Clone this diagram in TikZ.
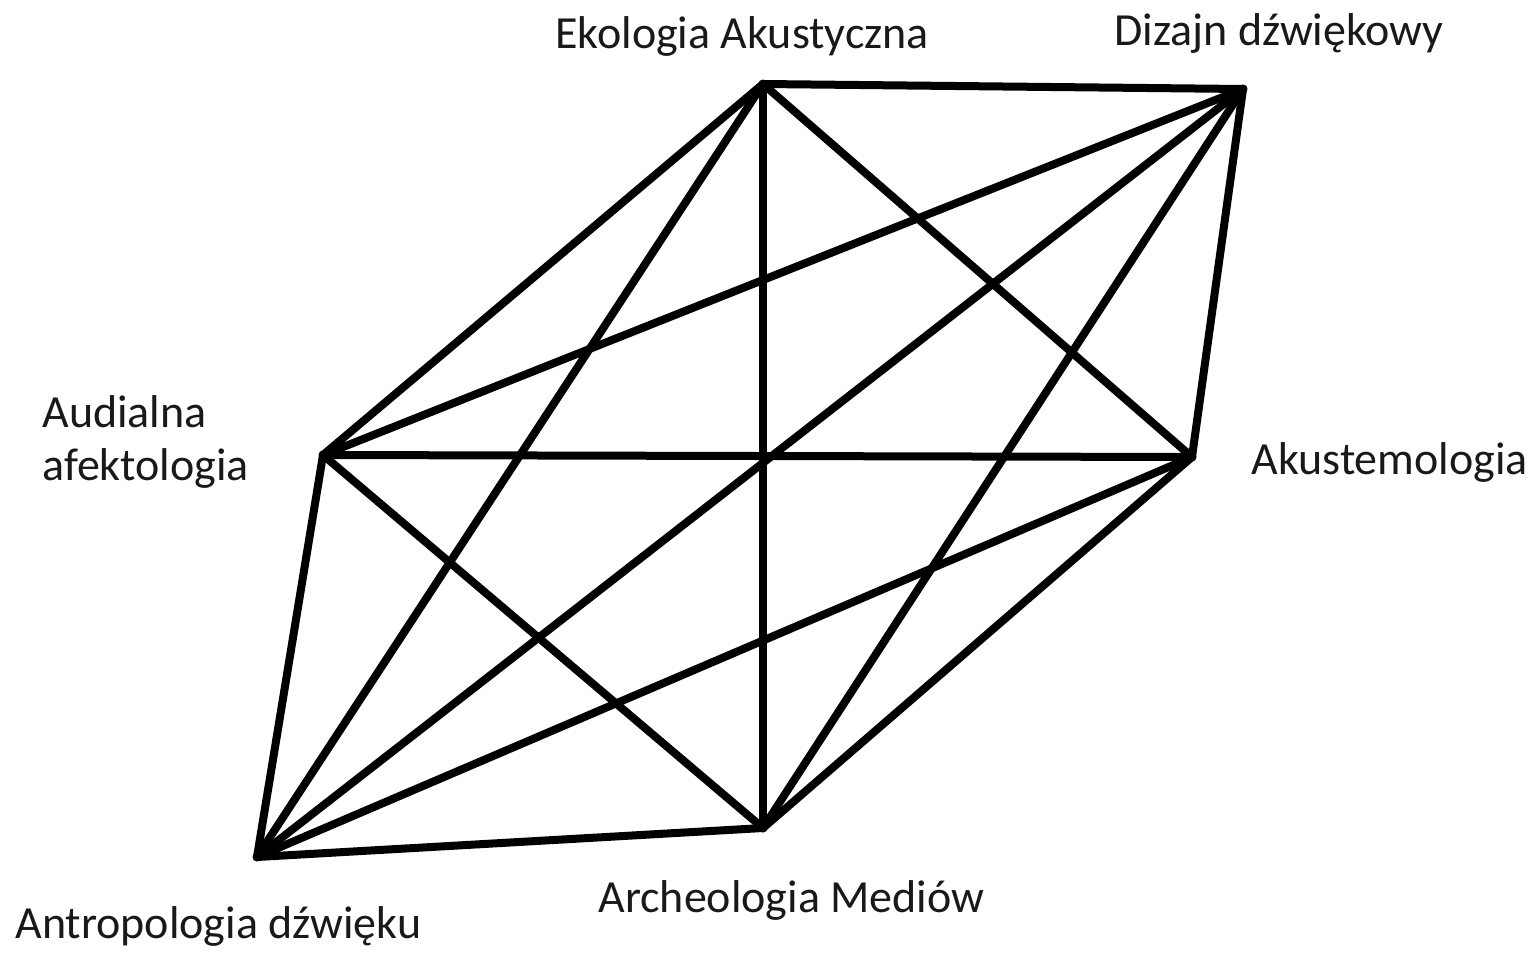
\documentclass[tikz,border=0pt]{standalone}
\usepackage{fontspec}
\setmainfont{Carlito}
\begin{document}
\begin{tikzpicture}[x=0.5pt,y=-0.5pt,
  vert/.style={circle,fill=black,inner sep=0pt,minimum size=4.5pt},
  lbl/.style={anchor=base west,inner sep=0pt,text=black!90,font=\fontsize{23pt}{27.5pt}\selectfont},
  edge/.style={line width=4pt,line cap=round,line join=round}]
\useasboundingbox (0,0) rectangle (1536,953);
\node[vert] (E) at (763,84) {};
\node[vert] (D) at (1243,89) {};
\node[vert] (A) at (1192,457) {};
\node[vert] (U) at (323,455) {};
\node[vert] (N) at (257,857) {};
\node[vert] (M) at (763,828) {};
\node[lbl] (lE) at (555,48) {Ekologia Akustyczna};
\node[lbl] (lD) at (1114,45) {Dizajn dźwiękowy};
\node[lbl] (lU1) at (42,427) {Audialna};
\node[lbl] (lU2) at (42,480) {afektologia};
\node[lbl] (lA) at (1251,474) {Akustemologia};
\node[lbl] (lN) at (15,938) {Antropologia dźwięku};
\node[lbl] (lM) at (598,912) {Archeologia Mediów};
\foreach \a/\b in {E/D,E/A,E/U,E/N,E/M,D/A,D/U,D/N,D/M,A/U,A/N,A/M,U/N,U/M,N/M}
  \draw[edge] (\a.center) -- (\b.center);
\end{tikzpicture}
\end{document}
